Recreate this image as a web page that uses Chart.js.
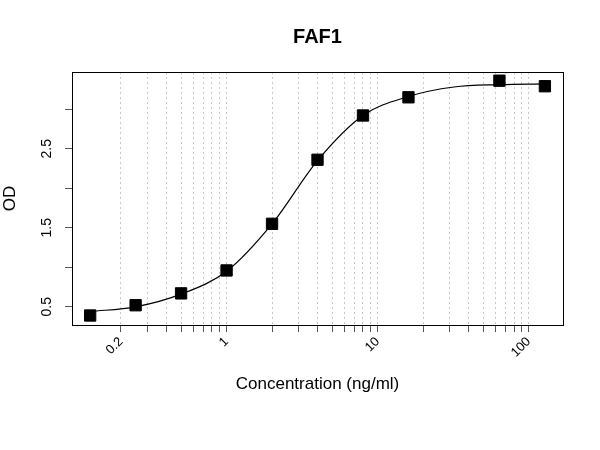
<!DOCTYPE html>
<html>
<head>
    <title>FAF1</title>
    <script src="https://cdn.jsdelivr.net/npm/chart.js" type="text/javascript"></script>
    <style>
        body { margin: 0; background: #fff; }
    </style>
    <script type="text/javascript">

        // measured points (ng/ml, OD)
        var concentrations = [0.125, 0.25, 0.5, 1, 2, 4, 8, 16, 64, 128];
        var odValues = [0.39, 0.52, 0.67, 0.96, 1.55, 2.36, 2.92, 3.15, 3.36, 3.29];

        // fitted curve
        var fitConc = [0.125, 0.25, 0.5, 1, 2, 4, 8, 16, 32, 64, 128];
        var fitOD = [0.44, 0.50, 0.66, 0.95, 1.55, 2.35, 2.92, 3.16, 3.28, 3.31, 3.32];

        // axes
        var xGridTicks = [0.2, 0.3, 0.4, 0.5, 0.6, 0.7, 0.8, 0.9,
                          1, 2, 3, 4, 5, 6, 7, 8, 9,
                          10, 20, 30, 40, 50, 60, 70, 80, 90, 100];
        var xTickLabels = [0.2, 1, 10, 100];
        var yTicks = [0.5, 1, 1.5, 2, 2.5, 3];
        var yTickLabels = [0.5, 1.5, 2.5];

        var FONT = "'Liberation Sans', Arial, sans-serif";

        function toXY(xs, ys) {
            return xs.map(function (x, i) { return { x: x, y: ys[i] }; });
        }

        // title centred over the plot area, plus the full box round it
        var framePlugin = {
            id: 'frame',
            afterDraw: function (chart) {
                var ctx = chart.ctx;
                var a = chart.chartArea;
                ctx.save();
                ctx.strokeStyle = '#000';
                ctx.lineWidth = 1;
                ctx.strokeRect(Math.round(a.left) + 0.5, Math.round(a.top) + 0.5,
                    Math.round(a.right - a.left), Math.round(a.bottom - a.top));
                ctx.fillStyle = '#000';
                ctx.font = 'bold 20px ' + FONT;
                ctx.textAlign = 'center';
                ctx.textBaseline = 'middle';
                ctx.fillText('FAF1', (a.left + a.right) / 2, 37);
                ctx.restore();
            }
        };

        window.onload = function () {
            var ctx = document.getElementById('odChart').getContext('2d');
            new Chart(ctx, {
                type: 'scatter',
                data: {
                    datasets: [{
                        label: 'OD',
                        data: toXY(concentrations, odValues),
                        pointStyle: 'rect',
                        pointRadius: 8,
                        pointHoverRadius: 8,
                        backgroundColor: '#000',
                        borderColor: '#000',
                        borderWidth: 1,
                        showLine: false
                    }, {
                        label: 'fit',
                        data: toXY(fitConc, fitOD),
                        showLine: true,
                        pointRadius: 0,
                        borderColor: '#000',
                        borderWidth: 1.2,
                        cubicInterpolationMode: 'monotone',
                        fill: false
                    }]
                },
                options: {
                    responsive: false,
                    animation: false,
                    layout: { padding: { top: 72, right: 37, left: 0, bottom: 55 } },
                    plugins: {
                        legend: { display: false },
                        tooltip: { enabled: false }
                    },
                    scales: {
                        x: {
                            type: 'logarithmic',
                            min: 0.0948,
                            max: 168.7,
                            afterBuildTicks: function (scale) {
                                scale.ticks = xGridTicks.map(function (v) { return { value: v }; });
                            },
                            afterFit: function (scale) { scale.height = 70; },
                            grid: {
                                color: '#c8c8c8',
                                tickColor: '#555',
                                tickBorderDash: [],
                                tickLength: 7
                            },
                            border: { display: false, dash: [2, 3] },
                            ticks: {
                                autoSkip: false,
                                minRotation: 45,
                                maxRotation: 45,
                                padding: 2,
                                color: '#000',
                                font: { family: FONT, size: 13 },
                                callback: function (v) {
                                    return xTickLabels.indexOf(v) >= 0 ? String(v) : '';
                                }
                            },
                            title: {
                                display: true,
                                text: 'Concentration (ng/ml)',
                                color: '#000',
                                padding: 0,
                                font: { family: FONT, size: 17 }
                            }
                        },
                        y: {
                            type: 'linear',
                            min: 0.27,
                            max: 3.47,
                            afterBuildTicks: function (scale) {
                                scale.ticks = yTicks.map(function (v) { return { value: v }; });
                            },
                            afterFit: function (scale) { scale.width = 72; },
                            grid: {
                                drawOnChartArea: false,
                                tickColor: '#555',
                                tickLength: 7
                            },
                            border: { display: false },
                            ticks: {
                                minRotation: 90,
                                maxRotation: 90,
                                crossAlign: 'center',
                                padding: 8,
                                color: '#000',
                                font: { family: FONT, size: 14 },
                                callback: function (v) {
                                    return yTickLabels.indexOf(v) >= 0 ? String(v) : '';
                                }
                            },
                            title: {
                                display: true,
                                text: 'OD',
                                color: '#000',
                                padding: 0,
                                font: { family: FONT, size: 17 }
                            }
                        }
                    }
                },
                plugins: [framePlugin]
            });
        };

    </script>
</head>
<body>
    <canvas id="odChart" width="600" height="450"></canvas>
</body>
</html>
